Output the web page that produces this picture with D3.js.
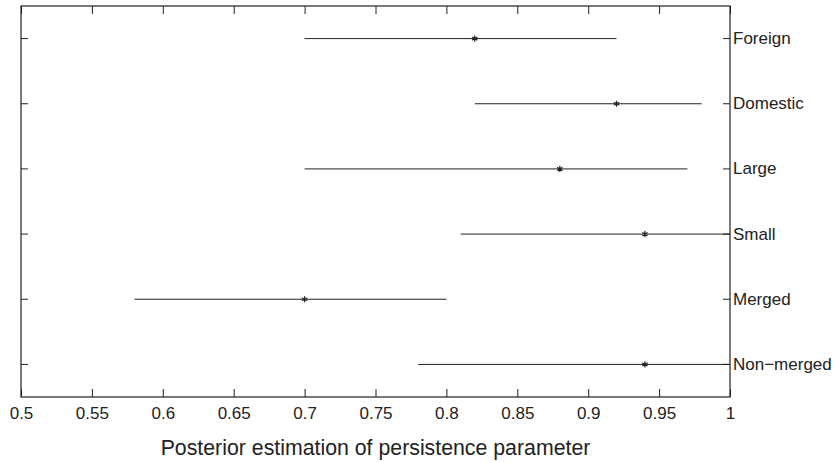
<!DOCTYPE html>
<html>
<head>
<meta charset="utf-8">
<script src="https://cdn.jsdelivr.net/npm/d3@7"></script>
<style>
  body { margin: 0; background: #fff; }
  text { font-family: "Liberation Sans", Arial, sans-serif; fill: #222; }
</style>
</head>
<body>
<div id="chart"></div>
<script>
// groups, top to bottom
const groups = ["Foreign", "Domestic", "Large", "Small", "Merged", "Non\u2212merged"];
// posterior estimate and interval ends
const estimate = [0.82, 0.92, 0.88, 0.94, 0.70, 0.94];
const lower    = [0.70, 0.82, 0.70, 0.81, 0.58, 0.78];
const upper    = [0.92, 0.98, 0.97, 1.00, 0.80, 1.00];
const xTicks = [0.5, 0.55, 0.6, 0.65, 0.7, 0.75, 0.8, 0.85, 0.9, 0.95, 1];

const W = 836, H = 462;
const margin = {top: 6, right: 106, bottom: 65, left: 21};
const width = W - margin.left - margin.right,
      height = H - margin.top - margin.bottom;

const svg = d3.select("#chart").append("svg")
    .attr("width", W)
    .attr("height", H)
  .append("g")
    .attr("transform", "translate(" + margin.left + "," + margin.top + ")");

const x = d3.scaleLinear().domain([0.5, 1]).range([0, width]);
const y = d3.scaleBand().domain(groups).range([0, height]);
const yc = d => y(d) + y.bandwidth() / 2;

const ink = "#222";

// frame
svg.append("rect")
    .attr("width", width).attr("height", height)
    .attr("fill", "none").attr("stroke", ink).attr("stroke-width", 1.2);

// bottom axis with labels, ticks pointing inward
const xb = svg.append("g")
    .attr("transform", "translate(0," + height + ")")
    .call(d3.axisBottom(x).tickValues(xTicks).tickFormat(d3.format("")).tickSizeInner(-8).tickSizeOuter(0).tickPadding(10));
xb.select(".domain").remove();
xb.selectAll("line").attr("stroke", ink);
xb.selectAll("text").style("font-size", "17px").attr("fill", ink);

// top ticks
const xt = svg.append("g")
    .call(d3.axisTop(x).tickValues(xTicks).tickFormat("").tickSizeInner(-8).tickSizeOuter(0));
xt.select(".domain").remove();
xt.selectAll("line").attr("stroke", ink);

// left ticks
const yl = svg.append("g")
    .call(d3.axisLeft(y).tickFormat("").tickSizeInner(-7).tickSizeOuter(0));
yl.select(".domain").remove();
yl.selectAll("line").attr("stroke", ink);

// right ticks + group labels
const yr = svg.append("g")
    .attr("transform", "translate(" + width + ",0)")
    .call(d3.axisRight(y).tickSizeInner(-7).tickSizeOuter(0).tickPadding(3));
yr.select(".domain").remove();
yr.selectAll("line").attr("stroke", ink);
yr.selectAll("text").style("font-size", "17px").attr("fill", ink).attr("x", 3);

// interval lines
svg.selectAll(".ci")
    .data(groups)
    .enter().append("line")
    .attr("class", "ci")
    .attr("x1", (d, i) => x(lower[i]))
    .attr("x2", (d, i) => x(upper[i]))
    .attr("y1", d => yc(d))
    .attr("y2", d => yc(d))
    .attr("stroke", ink)
    .attr("stroke-width", 1);

// estimates
svg.selectAll(".est")
    .data(groups)
    .enter().append("path")
    .attr("class", "est")
    .attr("d", d3.symbol(d3.symbolAsterisk, 26))
    .attr("transform", (d, i) => "translate(" + x(estimate[i]) + "," + yc(d) + ")")
    .attr("fill", "none")
    .attr("stroke", ink)
    .attr("stroke-width", 1.2);

// axis title
svg.append("text")
    .attr("x", x(0.75))
    .attr("y", height + 58)
    .attr("text-anchor", "middle")
    .style("font-size", "21.3px")
    .text("Posterior estimation of persistence parameter");
</script>
</body>
</html>
